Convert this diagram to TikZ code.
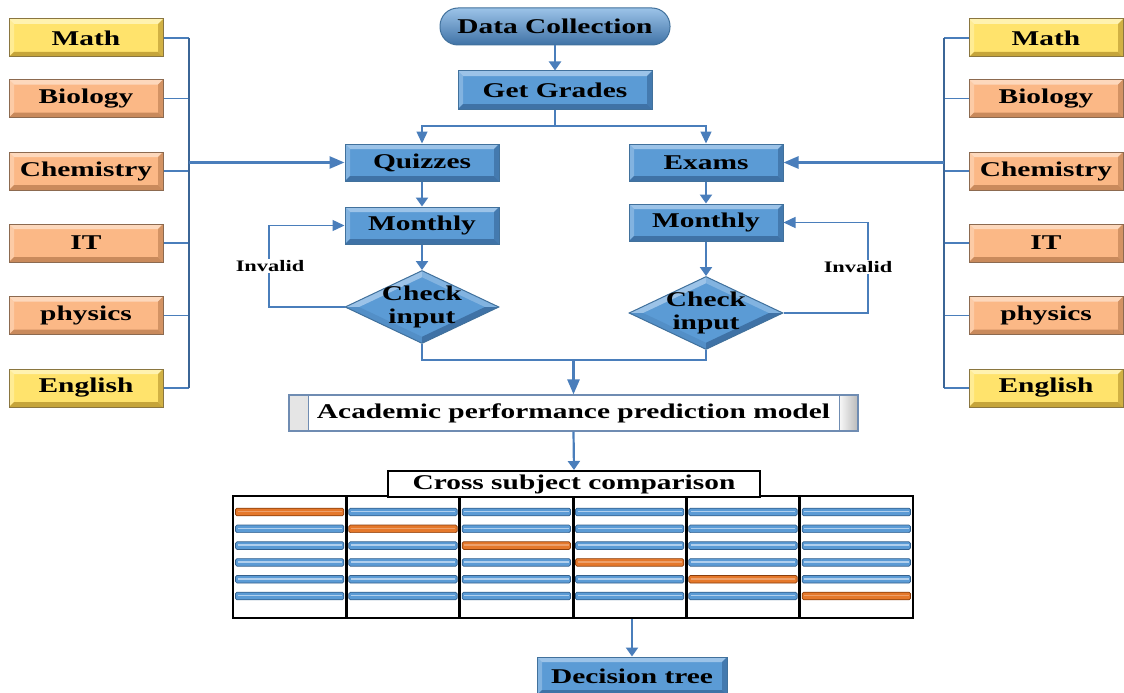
\documentclass[tikz,border=0pt]{standalone}
\usepackage{fontspec}
\setmainfont{Liberation Serif}[FakeStretch=1.4]
\usetikzlibrary{shapes.geometric,arrows.meta,calc}
\definecolor{bfill}{HTML}{5B9BD5}
\definecolor{blight}{HTML}{9CC3E8}
\definecolor{bdark}{HTML}{3F72A6}
\definecolor{bline}{HTML}{41719C}
\definecolor{conn}{HTML}{4A7EBB}
\definecolor{yfill}{HTML}{FFE36C}
\definecolor{ylight}{HTML}{FFF2B0}
\definecolor{ydark}{HTML}{C6A53A}
\definecolor{yline}{HTML}{8A7640}
\definecolor{pfill}{HTML}{FBB886}
\definecolor{plight}{HTML}{FDD8BC}
\definecolor{pdark}{HTML}{C98A5C}
\definecolor{pline}{HTML}{8C6A50}
\definecolor{ofill}{HTML}{E5782B}
\definecolor{odark}{HTML}{8A3E0C}
\definecolor{apmline}{HTML}{6F8CB2}
\newcommand{\bevelrect}[3]{%
  \fill[#1] (path picture bounding box.north west) -- (path picture bounding box.north east)
    -- ([shift={(-#3,-#3)}]path picture bounding box.north east)
    -- ([shift={(#3,-#3)}]path picture bounding box.north west) -- cycle;
  \fill[#1,opacity=0.6] (path picture bounding box.north west) -- (path picture bounding box.south west)
    -- ([shift={(#3,#3)}]path picture bounding box.south west)
    -- ([shift={(#3,-#3)}]path picture bounding box.north west) -- cycle;
  \fill[#2] (path picture bounding box.south west) -- (path picture bounding box.south east)
    -- ([shift={(-#3,#3)}]path picture bounding box.south east)
    -- ([shift={(#3,#3)}]path picture bounding box.south west) -- cycle;
  \fill[#2,opacity=0.8] (path picture bounding box.north east) -- (path picture bounding box.south east)
    -- ([shift={(-#3,#3)}]path picture bounding box.south east)
    -- ([shift={(-#3,-#3)}]path picture bounding box.north east) -- cycle;
}
\newcommand{\beveldiamond}{%
  \path (path picture bounding box.center) coordinate (pc)
        (path picture bounding box.north) coordinate (pN)
        (path picture bounding box.south) coordinate (pS)
        (path picture bounding box.east) coordinate (pE)
        (path picture bounding box.west) coordinate (pW);
  \path ($(pc)!0.82!(pN)$) coordinate (qN) ($(pc)!0.82!(pS)$) coordinate (qS)
        ($(pc)!0.82!(pE)$) coordinate (qE) ($(pc)!0.82!(pW)$) coordinate (qW);
  \fill[blight] (pW) -- (pN) -- (qN) -- (qW) -- cycle;
  \fill[blight!60!bfill] (pN) -- (pE) -- (qE) -- (qN) -- cycle;
  \fill[bfill!70!bdark] (pW) -- (pS) -- (qS) -- (qW) -- cycle;
  \fill[bdark] (pS) -- (pE) -- (qE) -- (qS) -- cycle;
}
\tikzset{
  txt/.style={font=\fontsize{21}{23}\selectfont\bfseries},
  bluebox/.style={txt, rectangle, inner sep=0pt, minimum width=154pt, minimum height=37pt,
    draw=bline, line width=1pt, fill=bfill, path picture={\bevelrect{blight}{bdark}{5pt}}},
  subjY/.style={txt, rectangle, inner sep=0pt, minimum width=154pt, minimum height=38pt,
    draw=yline, line width=1pt, fill=yfill, path picture={\bevelrect{ylight}{ydark}{5pt}}},
  subjP/.style={txt, rectangle, inner sep=0pt, minimum width=154pt, minimum height=38pt,
    draw=pline, line width=1pt, fill=pfill, path picture={\bevelrect{plight}{pdark}{5pt}}},
  pill/.style={txt, rectangle, rounded corners=18pt, inner sep=0pt, minimum width=230pt, minimum height=37pt,
    draw=bline, line width=1pt, top color=blight, middle color=bfill, bottom color=bdark},
  chk/.style={diamond, inner sep=0pt, minimum width=154pt, minimum height=73pt,
    draw=bline, line width=1pt, fill=bfill, path picture={\beveldiamond}},
  apm/.style={txt, rectangle, inner sep=0pt, minimum width=569pt, minimum height=36pt,
    draw=apmline, line width=1.2pt, fill=white, path picture={
      \shade[left color=gray!20, right color=gray!50] (path picture bounding box.north west) rectangle ([xshift=19pt]path picture bounding box.south west);
      \shade[left color=gray!5, right color=gray!55] ([xshift=-19pt]path picture bounding box.north east) rectangle (path picture bounding box.south east);
      \draw[apmline, line width=1pt] ([xshift=19pt]path picture bounding box.north west) -- ([xshift=19pt]path picture bounding box.south west);
      \draw[apmline, line width=1pt] ([xshift=-19pt]path picture bounding box.north east) -- ([xshift=-19pt]path picture bounding box.south east);}},
  conn/.style={draw=conn, line width=1.4pt},
  bus/.style={draw=conn!80!black, line width=2.2pt},
  arrS/.style={draw=conn, line width=2.2pt, -{Triangle[width=12pt,length=9pt]}},
  arrT/.style={draw=conn, line width=1.4pt, -{Triangle[width=11pt,length=12pt]}},
  arrL/.style={draw=conn, line width=2.6pt, -{Triangle[width=12pt,length=15pt]}},
  lbl/.style={font=\fontsize{16}{18}\selectfont\bfseries, fill=white, inner sep=1pt},
  bbar/.style={fill=bfill, draw=bdark!85!black, line width=0.7pt, rounded corners=1.5pt},
  bhl/.style={draw=blight!80!white, line width=1.6pt},
  obar/.style={fill=ofill, draw=odark, line width=0.7pt, rounded corners=1.5pt},
  ohl/.style={draw=ofill!70!white, line width=1.6pt},
}
\begin{document}
\begin{tikzpicture}[x=1pt,y=-1pt]
\useasboundingbox (0,0) rectangle (1124,693);
\fill[white] (0,0) rectangle (1124,693);

% left subjects
\node[subjY] (mL) at (86,38) {Math};
\node[subjP] (bL) at (86,98.5) {Biology};
\node[subjP] (cL) at (86,171) {Chemistry};
\node[subjP] (iL) at (86,243) {IT};
\node[subjP] (pL) at (86,315.5) {physics};
\node[subjY] (eL) at (86,388) {English};
% right subjects
\node[subjY] (mR) at (1046,38) {Math};
\node[subjP] (bR) at (1046,98.5) {Biology};
\node[subjP] (cR) at (1046,171) {Chemistry};
\node[subjP] (iR) at (1046,243) {IT};
\node[subjP] (pR) at (1046,315.5) {physics};
\node[subjY] (eR) at (1046,388) {English};

% flow
\node[pill] (dc) at (555,26.5) {Data Collection};
\node[bluebox, minimum width=194pt, minimum height=38pt] (gg) at (555,90) {Get Grades};
\node[bluebox] (quiz) at (422,162.5) {Quizzes};
\node[bluebox] (exam) at (706,162.5) {Exams};
\node[bluebox] (monL) at (422,225.5) {Monthly};
\node[bluebox] (monR) at (706,222.5) {Monthly};
\node[chk, label={[txt,align=center]center:{Check\\input}}] (chkL) at (422,307) {};
\node[chk, label={[txt,align=center]center:{Check\\input}}] (chkR) at (706,313) {};
\node[apm] (apmod) at (573.5,413) {Academic performance prediction model};

% table
\node[draw=black, line width=2pt, minimum width=680pt, minimum height=122pt, inner sep=0pt] (tbl) at (573,557) {};
\foreach \r in {0,...,5}{
  \foreach \c in {0,...,5}{
    \pgfmathsetmacro{\xa}{233+\c*113.333+2.5}
    \pgfmathsetmacro{\xb}{233+(\c+1)*113.333-2.5}
    \pgfmathsetmacro{\yy}{512+\r*16.8}
    \ifnum\r=\c
      \path[obar] (\xa,{\yy-3.8}) rectangle (\xb,{\yy+3.8});
      \draw[ohl] ({\xa+2},{\yy-0.5}) -- ({\xb-2},{\yy-0.5});
    \else
      \path[bbar] (\xa,{\yy-3.8}) rectangle (\xb,{\yy+3.8});
      \draw[bhl] ({\xa+2},{\yy-0.5}) -- ({\xb-2},{\yy-0.5});
    \fi
  }
}
\foreach \c in {1,...,5}{
  \draw[black, line width=3pt] ({233+\c*113.333},496) -- ({233+\c*113.333},618);
}
\node[txt, draw=black, line width=2pt, fill=white, inner sep=0pt, minimum width=372pt, minimum height=26pt] (csc) at (574,484) {Cross subject comparison};
\node[bluebox, minimum width=190pt, minimum height=38pt] (dt) at (632,676) {Decision tree};

% buses
\coordinate (busLt) at (189,38);
\coordinate (busLb) at (189,388);
\coordinate (busLm) at (189,162.5);
\coordinate (busRt) at (944,38);
\coordinate (busRb) at (944,388);
\coordinate (busRm) at (944,162.5);
\foreach \n in {mL,bL,cL,iL,pL,eL}{ \draw[conn] (\n.east) -- (\n.east -| busLt); }
\foreach \n in {mR,bR,cR,iR,pR,eR}{ \draw[conn] (\n.west) -- (\n.west -| busRt); }
\draw[bus] (busLt) -- (busLb);
\draw[bus] (busRt) -- (busRb);
\draw[arrL] (busLm) -- (quiz.west);
\draw[arrL] (busRm) -- (exam.east);

% flow connectors
\draw[arrS] (dc.south) -- (gg.north);
\coordinate (split) at (555,126);
\draw[draw=conn, line width=2.6pt] (gg.south) -- (split);
\draw[arrT] (split) -| (quiz.north);
\draw[arrT] (split) -| (exam.north);
\draw[arrS] (quiz.south) -- (monL.north);
\draw[arrS] (exam.south) -- (monR.north);
\draw[arrS] (monL.south) -- (chkL.north);
\draw[arrS] (monR.south) -- (chkR.north);
\coordinate (loopL) at (269,307);
\coordinate (loopR) at (868,313);
\draw[arrT] (chkL.west) -- (loopL) |- (monL.west);
\draw[arrT] (chkR.east) -- (loopR) |- (monR.east);
\node[lbl] (invL) at (270,266) {Invalid};
\node[lbl] (invR) at (858,267) {Invalid};
\coordinate (merge) at (573.5,360);
\draw[conn] (chkL.south) |- (merge);
\draw[conn] (chkR.south) |- (merge);
\draw[arrL] (merge) -- (apmod.north);
\draw[arrS] (apmod.south) -- (csc.north);
\draw[arrS] (tbl.south -| dt.north) -- (dt.north);
\end{tikzpicture}
\end{document}
